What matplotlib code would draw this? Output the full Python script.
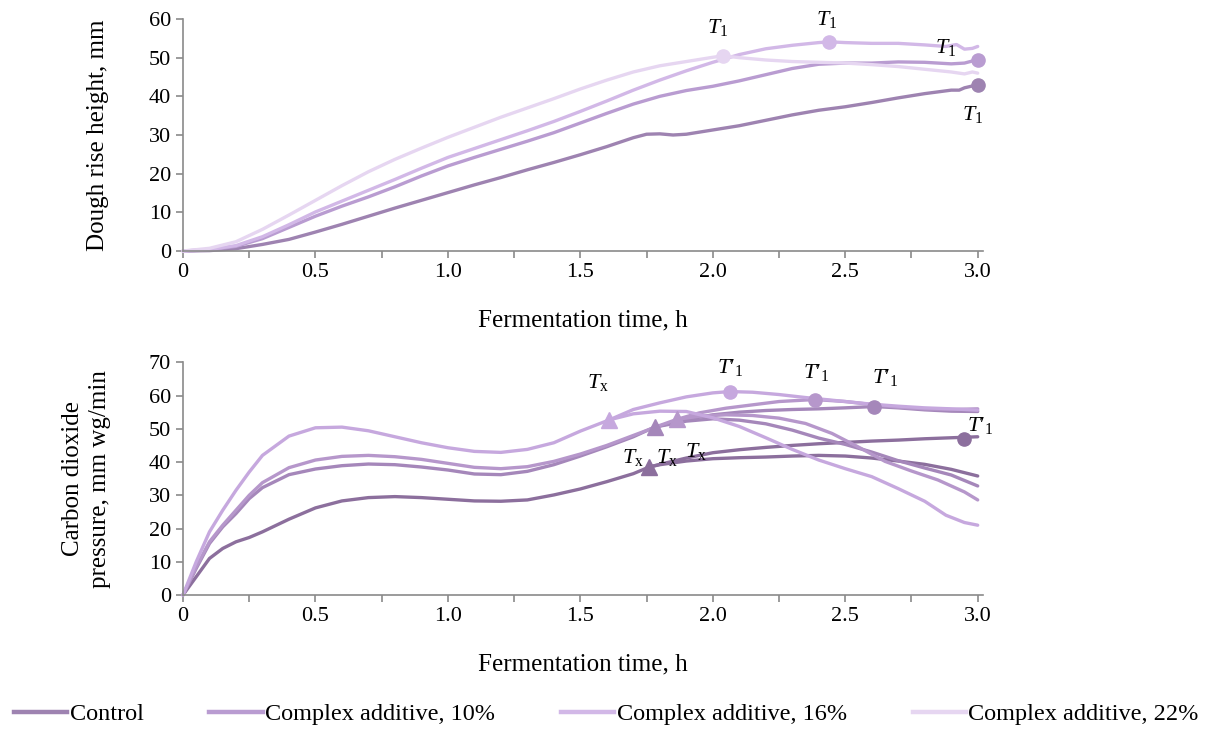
import matplotlib
matplotlib.use("Agg")
import matplotlib.pyplot as plt
from matplotlib.lines import Line2D

plt.rcParams['font.family'] = ['Liberation Serif', 'DejaVu Serif']
plt.rcParams['mathtext.fontset'] = 'custom'
plt.rcParams['mathtext.rm'] = 'Liberation Serif'
plt.rcParams['mathtext.it'] = 'Liberation Serif:italic'

# ---------------- data: dough rise height ----------------
labels = ["Control", "Complex additive, 10%", "Complex additive, 16%", "Complex additive, 22%"]

h_t_control = [0, 0.1, 0.2, 0.3, 0.4, 0.5, 0.6, 0.7, 0.8, 0.9, 1.0, 1.1, 1.2, 1.3, 1.4, 1.5, 1.6, 1.7,
               1.75, 1.8, 1.85, 1.9, 2.0, 2.1, 2.2, 2.3, 2.4, 2.5, 2.6, 2.7, 2.8, 2.9, 2.93, 2.95, 3.0]
h_control = [0, 0.1, 0.6, 1.7, 3.0, 4.9, 6.9, 9.0, 11.1, 13.1, 15.1, 17.1, 19.0, 21.0, 22.9, 24.9, 27.0, 29.3,
             30.2, 30.3, 30.0, 30.2, 31.3, 32.4, 33.8, 35.2, 36.4, 37.3, 38.4, 39.6, 40.7, 41.6, 41.6, 42.2, 43.0]

h_t_10 = [0, 0.1, 0.2, 0.3, 0.4, 0.5, 0.6, 0.7, 0.8, 0.9, 1.0, 1.1, 1.2, 1.3, 1.4, 1.5, 1.6, 1.7, 1.8, 1.9,
          2.0, 2.1, 2.2, 2.3, 2.4, 2.5, 2.6, 2.7, 2.8, 2.9, 2.95, 3.0]
h_10 = [0, 0.3, 1.2, 3.2, 6.1, 9.0, 11.6, 14.0, 16.6, 19.4, 22.0, 24.2, 26.3, 28.4, 30.6, 33.1, 35.6, 38.0, 40.0, 41.5,
        42.6, 44.0, 45.6, 47.2, 48.3, 48.6, 48.6, 48.9, 48.8, 48.4, 48.6, 49.5]

h_t_16 = [0, 0.1, 0.2, 0.3, 0.4, 0.5, 0.6, 0.7, 0.8, 0.9, 1.0, 1.1, 1.2, 1.3, 1.4, 1.5, 1.6, 1.7, 1.8, 1.9,
          2.0, 2.1, 2.2, 2.3, 2.4, 2.44, 2.5, 2.6, 2.7, 2.8, 2.88, 2.92, 2.95, 2.98, 3.0]
h_16 = [0, 0.4, 1.4, 3.7, 6.8, 10.1, 12.9, 15.7, 18.5, 21.4, 24.2, 26.5, 28.8, 31.1, 33.5, 36.1, 38.8, 41.6, 44.2, 46.6,
        48.8, 50.8, 52.3, 53.2, 53.9, 54.1, 53.9, 53.7, 53.7, 53.3, 52.9, 53.4, 52.2, 52.4, 52.9]

h_t_22 = [0, 0.1, 0.2, 0.3, 0.4, 0.5, 0.6, 0.7, 0.8, 0.9, 1.0, 1.1, 1.2, 1.3, 1.4, 1.5, 1.6, 1.7, 1.8, 1.9,
          2.0, 2.04, 2.1, 2.2, 2.3, 2.4, 2.5, 2.6, 2.7, 2.8, 2.9, 2.95, 2.98, 3.0]
h_22 = [0, 0.7, 2.4, 5.6, 9.3, 13.1, 16.9, 20.5, 23.7, 26.6, 29.4, 32.0, 34.6, 37.0, 39.4, 41.9, 44.2, 46.3, 47.9, 49.0,
        50.1, 50.5, 50.0, 49.4, 49.0, 48.8, 48.6, 48.2, 47.7, 47.0, 46.3, 45.8, 46.3, 46.0]

# T1 points (time, height)
t1_time = [3.0, 3.0, 2.44, 2.04]
t1_height = [43.0, 49.5, 54.1, 50.5]
t1_label_pos = [(2.98, 35.4), (2.88, 52.5), (2.43, 60.0), (2.02, 57.7)]

# ---------------- data: CO2 pressure ----------------
c_t_control = [0, 0.05, 0.1, 0.15, 0.2, 0.25, 0.3, 0.4, 0.5, 0.6, 0.7, 0.8, 0.9, 1.0, 1.1, 1.2, 1.3, 1.4, 1.5,
               1.6, 1.7, 1.76, 1.8, 1.9, 2.0, 2.1, 2.2, 2.3, 2.4, 2.5, 2.6, 2.7, 2.8, 2.9, 3.0]
c_control = [0, 5.5, 11.0, 14.0, 16.0, 17.3, 19.0, 22.8, 26.2, 28.3, 29.3, 29.6, 29.3, 28.8, 28.3, 28.2, 28.6, 30.1, 31.9,
             34.1, 36.5, 38.5, 39.3, 41.2, 42.8, 43.7, 44.4, 45.0, 45.5, 45.9, 46.3, 46.6, 47.0, 47.3, 47.6]
c_rt_control = [1.76, 1.8, 1.9, 2.0, 2.1, 2.2, 2.3, 2.4, 2.5, 2.6, 2.7, 2.8, 2.9, 3.0]
c_r_control = [38.5, 39.2, 40.3, 41.0, 41.3, 41.5, 41.8, 42.0, 41.8, 41.2, 40.3, 39.3, 37.8, 35.8]

c_t_10 = [0, 0.05, 0.1, 0.15, 0.2, 0.25, 0.3, 0.4, 0.5, 0.6, 0.7, 0.8, 0.9, 1.0, 1.1, 1.2, 1.3, 1.4, 1.5,
          1.6, 1.7, 1.78, 1.9, 2.0, 2.1, 2.2, 2.3, 2.4, 2.5, 2.61, 2.7, 2.8, 2.9, 3.0]
c_10 = [0, 8.0, 15.5, 20.5, 24.5, 29.0, 32.3, 36.2, 37.9, 38.9, 39.4, 39.2, 38.5, 37.6, 36.4, 36.2, 37.2, 39.2, 41.8,
        44.6, 47.6, 50.5, 52.8, 54.2, 55.0, 55.5, 55.8, 56.0, 56.3, 56.7, 56.3, 55.7, 55.3, 55.2]
c_rt_10 = [1.78, 1.9, 2.0, 2.1, 2.2, 2.3, 2.4, 2.5, 2.6, 2.7, 2.8, 2.9, 3.0]
c_r_10 = [50.5, 52.3, 53.0, 52.6, 51.5, 49.6, 47.2, 45.3, 43.0, 40.4, 38.2, 36.1, 32.8]

c_t_16 = [0, 0.05, 0.1, 0.15, 0.2, 0.25, 0.3, 0.4, 0.5, 0.6, 0.7, 0.8, 0.9, 1.0, 1.1, 1.2, 1.3, 1.4, 1.5,
          1.6, 1.7, 1.8, 1.863, 1.95, 2.05, 2.15, 2.25, 2.385, 2.5, 2.6, 2.7, 2.8, 2.9, 3.0]
c_16 = [0, 8.5, 16.0, 21.0, 25.5, 30.0, 33.8, 38.3, 40.6, 41.7, 42.0, 41.6, 40.8, 39.6, 38.4, 38.0, 38.6, 40.2, 42.4,
        45.0, 48.0, 51.0, 52.8, 54.8, 56.2, 57.2, 58.2, 58.8, 58.2, 57.3, 56.5, 56.0, 55.8, 56.0]
c_rt_16 = [1.863, 1.95, 2.05, 2.15, 2.25, 2.35, 2.45, 2.55, 2.65, 2.75, 2.85, 2.95, 3.0]
c_r_16 = [52.8, 53.8, 54.2, 54.0, 53.2, 51.6, 48.6, 44.5, 40.2, 37.3, 34.6, 31.0, 28.6]

c_t_22 = [0, 0.05, 0.1, 0.15, 0.2, 0.25, 0.3, 0.4, 0.5, 0.6, 0.7, 0.8, 0.9, 1.0, 1.1, 1.2, 1.3, 1.4, 1.5,
          1.61, 1.7, 1.8, 1.9, 2.0, 2.064, 2.15, 2.25, 2.35, 2.5, 2.6, 2.7, 2.8, 2.9, 3.0]
c_22 = [0, 10.0, 19.0, 25.5, 31.5, 37.0, 42.0, 47.8, 50.3, 50.5, 49.4, 47.6, 45.8, 44.3, 43.2, 42.9, 43.8, 45.8, 49.3,
        52.7, 55.8, 57.8, 59.6, 60.8, 61.2, 61.0, 60.3, 59.4, 58.2, 57.4, 56.8, 56.3, 56.0, 55.6]
c_rt_22 = [1.61, 1.7, 1.8, 1.9, 2.0, 2.1, 2.2, 2.3, 2.4, 2.5, 2.6, 2.7, 2.8, 2.88, 2.95, 3.0]
c_r_22 = [52.7, 54.5, 55.3, 55.2, 53.3, 50.7, 47.3, 43.8, 40.6, 38.0, 35.6, 32.0, 28.2, 24.0, 21.8, 21.0]

# Tx points and T'1 points
tx_time = [1.76, 1.78, 1.863, 1.61]
tx_val = [38.5, 50.5, 52.8, 52.7]
tx_label_pos = [(1.70, 41.5), (1.826, 41.3), (1.936, 43.3), (1.566, 64.0)]
tp_time = [2.947, 2.61, 2.385, 2.064]
tp_val = [46.8, 56.7, 58.8, 61.2]
tp_label_pos = [(3.01, 51.1), (2.65, 65.3), (2.39, 66.8), (2.064, 68.3)]

x_ticks = [0, 0.25, 0.5, 0.75, 1.0, 1.25, 1.5, 1.75, 2.0, 2.25, 2.5, 2.75, 3.0]
x_ticklabels = ["0", "", "0.5", "", "1.0", "", "1.5", "", "2.0", "", "2.5", "", "3.0"]

# ---------------- styling ----------------
top_colors = ['#9e83b1', '#b99cd1', '#d2b8e7', '#e6d6f1']
bot_colors = ['#8c6f9d', '#a587ba', '#b697cb', '#c6a8de']
axis_gray = '#8a8a8a'
LW = 2.4
FS_TICK = 16
FS_LAB = 18
FS_LEG = 17.5
FS_ANN = 16

fig = plt.figure(figsize=(12.05, 7.29), dpi=100)
W, H = 1205, 729
ax1 = fig.add_axes([183 / W, 1 - 251 / H, 800 / W, 232 / H])
ax2 = fig.add_axes([183 / W, 1 - 595 / H, 800 / W, 232.7 / H])

for ax in (ax1, ax2):
    for s in ('top', 'right'):
        ax.spines[s].set_visible(False)
    for s in ('left', 'bottom'):
        ax.spines[s].set_color(axis_gray)
        ax.spines[s].set_linewidth(1.2)
    ax.tick_params(axis='both', colors=axis_gray, labelcolor='black', labelsize=FS_TICK,
                   length=5, width=1.2, direction='out')
    ax.set_xlim(0, 3.02)
    ax.set_xticks(x_ticks)
    ax.set_xticklabels(x_ticklabels)
    ax.set_xlabel("Fermentation time, h", fontsize=FS_LAB)

# top chart
ax1.set_ylim(0, 60)
ax1.set_yticks(range(0, 61, 10))
top_series = [(h_t_control, h_control), (h_t_10, h_10), (h_t_16, h_16), (h_t_22, h_22)]
for (tt, yy), c in zip(top_series, top_colors):
    ax1.plot(tt, yy, color=c, lw=LW, solid_joinstyle='round', solid_capstyle='round', clip_on=False)
for i in range(4):
    ax1.plot([t1_time[i]], [t1_height[i]], 'o', color=top_colors[i], ms=9.5, clip_on=False, zorder=5)
    ax1.text(t1_label_pos[i][0], t1_label_pos[i][1], r'$T_1$', fontsize=FS_ANN, ha='center', va='center')
ax1.set_ylabel("Dough rise height, mm", fontsize=FS_LAB)
ax1.yaxis.set_label_coords(-0.092, 0.5)
ax1.xaxis.set_label_coords(0.5, -0.25)

# bottom chart
ax2.set_ylim(0, 70)
ax2.set_yticks(range(0, 71, 10))
tot_series = [(c_t_control, c_control), (c_t_10, c_10), (c_t_16, c_16), (c_t_22, c_22)]
ret_series = [(c_rt_control, c_r_control), (c_rt_10, c_r_10), (c_rt_16, c_r_16), (c_rt_22, c_r_22)]
for i in range(4):
    c = bot_colors[i]
    ax2.plot(*tot_series[i], color=c, lw=LW, solid_joinstyle='round', solid_capstyle='round', clip_on=False)
    ax2.plot(*ret_series[i], color=c, lw=LW, solid_joinstyle='round', solid_capstyle='round', clip_on=False)
for i in range(4):
    c = bot_colors[i]
    ax2.plot([tx_time[i]], [tx_val[i]], '^', color=c, ms=11, clip_on=False, zorder=5)
    ax2.plot([tp_time[i]], [tp_val[i]], 'o', color=c, ms=9.5, clip_on=False, zorder=5)
    ax2.text(tx_label_pos[i][0], tx_label_pos[i][1], r'$T_\mathrm{x}$', fontsize=FS_ANN, ha='center', va='center')
    ax2.text(tp_label_pos[i][0], tp_label_pos[i][1], "$T$\u2032$_1$", fontsize=FS_ANN, ha='center', va='center')
ax2.set_ylabel("Carbon dioxide\npressure, mm wg/min", fontsize=FS_LAB, linespacing=1.3)
ax2.yaxis.set_label_coords(-0.09, 0.5)
ax2.xaxis.set_label_coords(0.5, -0.25)

# legend
handles = [Line2D([0], [0], color=c, lw=3.2) for c in top_colors]
fig.legend(handles, labels, loc='center left', bbox_to_anchor=(14 / W, 1 - 714 / H),
           ncol=4, frameon=False, fontsize=FS_LEG, handlelength=2.2, handletextpad=0.1,
           columnspacing=2.7, borderpad=0, borderaxespad=0)

fig.savefig("out.png", dpi=100)
